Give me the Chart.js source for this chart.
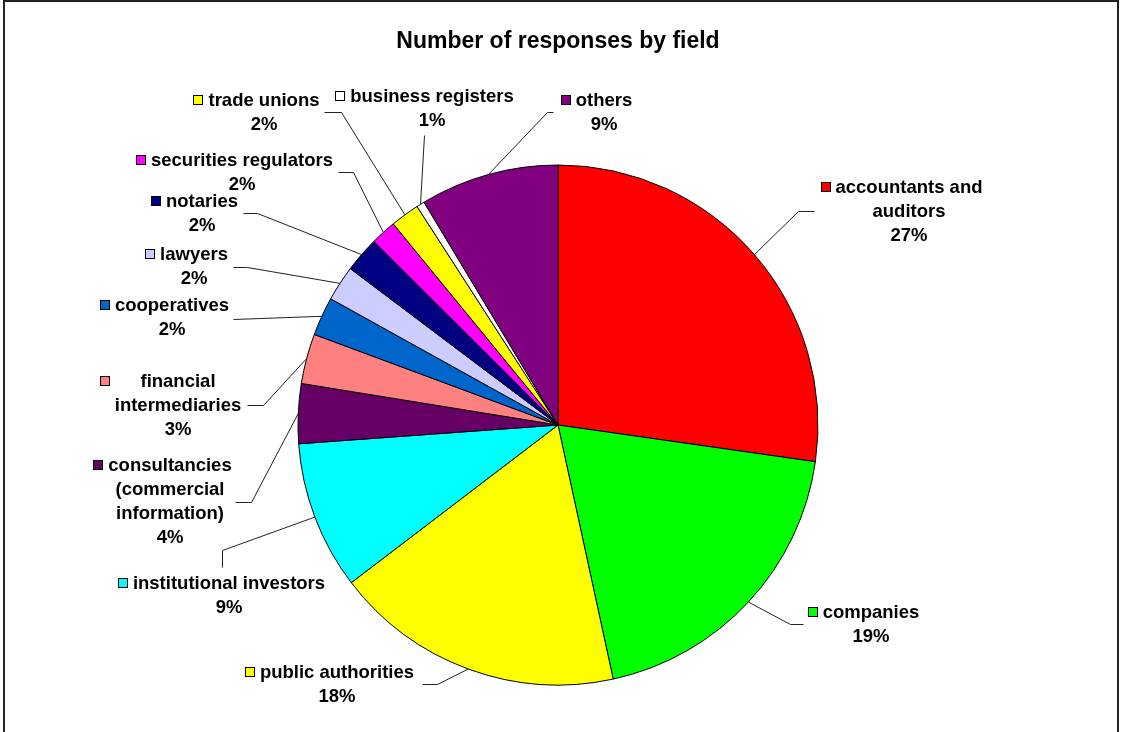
<!DOCTYPE html>
<html>
<head>
<meta charset="utf-8">
<script src="https://cdn.jsdelivr.net/npm/chart.js@4.4.1/dist/chart.umd.min.js"></script>
<style>
  html, body { margin: 0; padding: 0; background: #fff; }
  #wrap { width: 1121px; height: 732px; position: relative; }
</style>
</head>
<body>
<div id="wrap"><canvas id="c" width="1121" height="732"></canvas></div>
<script>
// ---- data ----
const categories = [
  ['accountants and', 'auditors'],
  ['companies'],
  ['public authorities'],
  ['institutional investors'],
  ['consultancies', '(commercial', 'information)'],
  ['financial', 'intermediaries'],
  ['cooperatives'],
  ['lawyers'],
  ['notaries'],
  ['securities regulators'],
  ['trade unions'],
  ['business registers'],
  ['others']
];
const values = [27.2, 19.3, 18.0, 9.2, 3.7, 3.1, 2.4, 2.2, 2.2, 1.6, 1.8, 0.5, 8.6];
const colors = ['#FF0000', '#00FF00', '#FFFF00', '#00FFFF', '#660066', '#FF8080',
                '#0066CC', '#CCCCFF', '#000080', '#FF00FF', '#FFFF00', '#FFFFFF', '#800080'];
const titleText = 'Number of responses by field';

// ---- label layout (text block centre x, first line y, leader points) ----
const labelLayout = [
  { cx: 909, y: 188, leader: [[814, 211], [798, 211]] },
  { cx: 871, y: 613, leader: [[803, 624], [790, 624]] },
  { cx: 337, y: 673, leader: [[422, 684], [437, 684]] },
  { cx: 229, y: 584, leader: [[222, 567], [222, 550]] },
  { cx: 170, y: 466, leader: [[235, 502], [251, 502]] },
  { cx: 178, y: 382, leader: [[247, 405], [263, 405]] },
  { cx: 172, y: 306, leader: [[233, 319]] },
  { cx: 194, y: 255, leader: [[233, 267], [247, 267]] },
  { cx: 202, y: 202, leader: [[243, 213], [257, 213]] },
  { cx: 242, y: 161, leader: [[338, 172], [353, 172]] },
  { cx: 264, y: 101, leader: [[324, 112], [341, 112]] },
  { cx: 432, y: 97,  leader: [[424, 135]] },
  { cx: 604, y: 101, leader: [[553, 112], [547, 112]] }
];
const LINE_H = 24;
const LABEL_FONT = 'bold 18.5px "Liberation Sans", Arial, sans-serif';

const labelPlugin = {
  id: 'sliceLabels',
  afterDatasetsDraw(chart) {
    const ctx = chart.ctx;
    const meta = chart.getDatasetMeta(0);
    const total = values.reduce((a, b) => a + b, 0);
    ctx.save();
    ctx.font = LABEL_FONT;
    meta.data.forEach((arc, i) => {
      const L = labelLayout[i];
      const p = arc.getProps(['x', 'y', 'startAngle', 'endAngle', 'outerRadius'], true);
      const mid = (p.startAngle + p.endAngle) / 2;
      const ex = p.x + Math.cos(mid) * p.outerRadius;
      const ey = p.y + Math.sin(mid) * p.outerRadius;
      ctx.strokeStyle = '#222';
      ctx.lineWidth = 1;
      ctx.beginPath();
      ctx.moveTo(L.leader[0][0] + 0.5, L.leader[0][1] + 0.5);
      for (let k = 1; k < L.leader.length; k++) ctx.lineTo(L.leader[k][0] + 0.5, L.leader[k][1] + 0.5);
      ctx.lineTo(ex, ey);
      ctx.stroke();

      const lines = [...categories[i], Math.round(values[i] / total * 100) + '%'];
      const w = Math.max(...lines.map(t => ctx.measureText(t).width));
      const left = L.cx - w / 2;
      ctx.fillStyle = '#000';
      ctx.textAlign = 'center';
      ctx.textBaseline = 'middle';
      lines.forEach((t, k) => ctx.fillText(t, L.cx, L.y + k * LINE_H));
      const sx = Math.round(left) - 15, sy = Math.round(L.y) - 6;
      ctx.fillStyle = colors[i];
      ctx.fillRect(sx, sy, 10, 10);
      ctx.strokeStyle = '#000';
      ctx.strokeRect(sx + 0.5, sy + 0.5, 9, 9);
    });
    ctx.restore();
  },
  afterDraw(chart) {
    const ctx = chart.ctx;
    ctx.save();
    ctx.fillStyle = '#222';
    ctx.fillRect(3, 0, 2, chart.height);        // left edge
    ctx.fillRect(3, 0, 1116, 2);                // top edge
    ctx.fillRect(1117, 0, 2, chart.height);     // right edge
    ctx.restore();
  }
};

const bgPlugin = {
  id: 'bg',
  beforeDraw(chart) {
    const ctx = chart.ctx;
    ctx.save();
    ctx.fillStyle = '#fff';
    ctx.fillRect(0, 0, chart.width, chart.height);
    ctx.restore();
  }
};

new Chart(document.getElementById('c'), {
  type: 'pie',
  data: {
    labels: categories,
    datasets: [{
      data: values,
      backgroundColor: colors,
      borderColor: '#000',
      borderWidth: 1,
      radius: 260
    }]
  },
  options: {
    responsive: false,
    animation: false,
    layout: { padding: { top: 0, left: 0, right: 5, bottom: 0 } },
    plugins: {
      legend: { display: false },
      tooltip: { enabled: false },
      title: {
        display: true,
        text: titleText,
        color: '#000',
        font: { family: '"Liberation Sans", Arial, sans-serif', size: 23, weight: 'bold', lineHeight: 1.2 },
        padding: { top: 28, bottom: 62.4 }
      }
    }
  },
  plugins: [bgPlugin, labelPlugin]
});
</script>
</body>
</html>
